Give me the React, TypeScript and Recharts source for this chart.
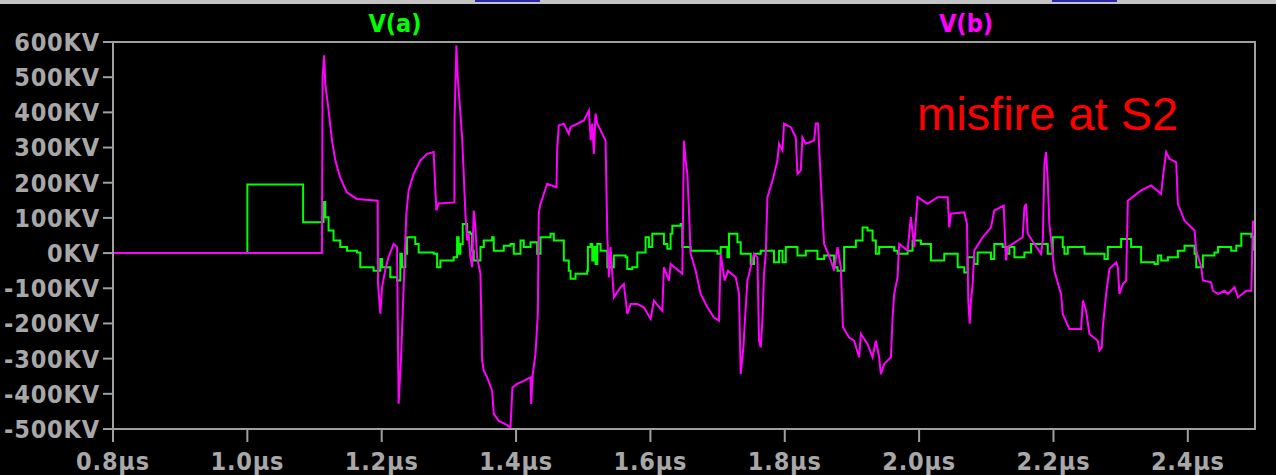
import { LineChart, Line, XAxis, YAxis, ReferenceArea } from "recharts";

// time axis in µs, voltage axis in KV
const X_TICKS = [0.8, 1.0, 1.2, 1.4, 1.6, 1.8, 2.0, 2.2, 2.4];
const Y_TICKS = [-500, -400, -300, -200, -100, 0, 100, 200, 300, 400, 500, 600];

// V(a): [t (µs), v (KV)]
const vaPoints: [number, number][] = [
  [0.8, 0], [1.0, 0], [1.0, 195], [1.083, 195], [1.083, 88], [1.111, 88],
  [1.1134, 145], [1.116, 102], [1.1209, 64], [1.1283, 36], [1.1383, 17], [1.1483, 7],
  [1.1632, 2], [1.1681, -40], [1.1879, -50], [1.1954, -50], [1.1979, -17], [1.2004, -40],
  [1.2128, -69], [1.2228, -78], [1.2277, -2], [1.2302, -40], [1.2352, -2], [1.2376, 45],
  [1.25, 26], [1.255, 2], [1.2773, -2], [1.2824, -40], [1.2873, -21], [1.3071, -12],
  [1.3122, 45], [1.3146, -2], [1.3171, 26], [1.3206, 83], [1.3272, 59], [1.332, 55],
  [1.3346, 7], [1.337, -21], [1.347, 17], [1.352, 36], [1.3644, 45], [1.3668, 7],
  [1.3817, 21], [1.3917, 26], [1.3966, -2], [1.4066, 36], [1.4115, 17], [1.4215, 31],
  [1.4314, -2], [1.4364, 45], [1.4513, 55], [1.4562, 36], [1.4711, -21], [1.4785, -50],
  [1.4811, -73], [1.4885, -59], [1.5058, -50], [1.5069, 17], [1.5109, 26], [1.5134, -21],
  [1.5158, 17], [1.5184, -31], [1.5209, 26], [1.5258, 7], [1.5358, -40], [1.5456, -7],
  [1.563, -12], [1.5656, -45], [1.573, -40], [1.5805, 2], [1.5903, 2], [1.5928, 45],
  [1.5978, 17], [1.6028, 55], [1.6201, 26], [1.6252, 12], [1.6301, 55], [1.6326, 78],
  [1.645, 83], [1.6475, 17], [1.6574, 17], [1.6599, 7], [1.6997, -2], [1.7046, 17],
  [1.7146, -12], [1.717, 55], [1.7295, 31], [1.7344, -2], [1.7493, -31], [1.7542, -2],
  [1.7642, 7], [1.784, -26], [1.7915, 7], [1.7966, -26], [1.8015, 17], [1.8189, -7],
  [1.8313, 7], [1.8487, -17], [1.8586, -7], [1.8735, -40], [1.8785, -50], [1.8884, 17],
  [1.9058, 36], [1.9158, 73], [1.9232, 64], [1.9307, 36], [1.9356, -2], [1.9405, 17],
  [1.9629, 7], [1.9679, -2], [1.9829, 7], [1.9902, 36], [2.0027, 26], [2.0176, -21],
  [2.0374, -2], [2.0574, -40], [2.0672, -55], [2.0722, -12], [2.0821, -31], [2.0871, 2],
  [2.107, -17], [2.1119, 26], [2.1244, 17], [2.1293, -2], [2.1343, 17], [2.1418, -12],
  [2.1567, 2], [2.1666, 26], [2.1815, 26], [2.1915, -2], [2.1989, 45], [2.2138, 17],
  [2.2163, -2], [2.2213, 17], [2.2461, -2], [2.271, -2], [2.2759, -17], [2.2809, 17],
  [2.2958, 17], [2.3007, 40], [2.3156, 17], [2.3305, -26], [2.3504, -31], [2.3554, -7],
  [2.3603, -21], [2.3703, -12], [2.3852, 7], [2.3951, 21], [2.41, -2], [2.4125, -40],
  [2.4224, -7], [2.4396, 2], [2.4448, 17], [2.4646, 7], [2.4721, 21], [2.4796, 55],
  [2.4945, 45], [2.497, 7],
];

// V(b): [t (µs), v (KV)]
const vbPoints: [number, number][] = [
  [0.8, 0], [1.111, 0], [1.112, 500], [1.1144, 562], [1.116, 481], [1.121, 405],
  [1.126, 320], [1.131, 263], [1.138, 216], [1.148, 173], [1.163, 154], [1.194, 149],
  [1.1945, -87], [1.198, -172], [1.2005, -98], [1.205, -50], [1.21, -12], [1.2177, 26],
  [1.2228, 17], [1.2252, -428], [1.2286, -306], [1.2334, -58], [1.2367, 112], [1.2401, 178],
  [1.2475, 225], [1.2575, 263], [1.2675, 282], [1.2773, 287], [1.2814, 121], [1.2848, 141],
  [1.3082, 144], [1.3085, 386], [1.3112, 590], [1.3131, 500], [1.3161, 424], [1.3197, 329],
  [1.3221, 225], [1.3246, 112], [1.3272, 36], [1.3295, 55], [1.332, -12], [1.3346, -40],
  [1.337, 121], [1.3395, 73], [1.342, -12], [1.347, -59], [1.3495, -306], [1.3519, -334],
  [1.3569, -353], [1.3644, -391], [1.3668, -457], [1.3742, -477], [1.3842, -486], [1.3917, -496],
  [1.3946, -382], [1.4016, -372], [1.4115, -363], [1.4215, -353], [1.4225, -429], [1.4249, -344],
  [1.4289, -287], [1.4324, -173], [1.4338, 112], [1.4364, 140], [1.4413, 168], [1.4463, 197],
  [1.4602, 187], [1.4612, 292], [1.4636, 363], [1.4711, 368], [1.4785, 339], [1.4811, 358],
  [1.5009, 377], [1.5084, 405], [1.5112, 320], [1.5134, 368], [1.5158, 282], [1.5183, 396],
  [1.5209, 368], [1.5258, 349], [1.5332, 320], [1.5358, 55], [1.5381, -69], [1.5407, 17],
  [1.5456, -126], [1.5556, -97], [1.5605, -88], [1.5656, -173], [1.5705, -145], [1.5805, -145],
  [1.5903, -154], [1.6003, -187], [1.6052, -135], [1.6177, -164], [1.6201, -40], [1.6276, -78],
  [1.6301, -31], [1.6475, -59], [1.6499, 320], [1.6525, 263], [1.655, 225], [1.6574, 121],
  [1.6599, -2], [1.6674, -50], [1.6748, -116], [1.6848, -154], [1.6946, -183], [1.7021, -192],
  [1.7046, -2], [1.7106, -78], [1.7155, -50], [1.727, -69], [1.7319, -116], [1.7344, -344],
  [1.7384, -268], [1.7404, -201], [1.7444, -78], [1.7542, -2], [1.7593, -12], [1.7617, -249],
  [1.7642, -268], [1.7667, -192], [1.7691, -59], [1.7717, -2], [1.7742, 159], [1.7817, 206],
  [1.7891, 263], [1.7915, 311], [1.7966, 292], [1.7989, 368], [1.8089, 358], [1.8164, 329],
  [1.8189, 225], [1.8238, 235], [1.8263, 329], [1.8313, 311], [1.8437, 320], [1.8462, 368],
  [1.8496, 368], [1.8512, 301], [1.8536, 206], [1.8561, 112], [1.8586, 26], [1.8686, -21],
  [1.8735, -50], [1.8785, 17], [1.8834, -40], [1.8867, -211], [1.8958, -240], [1.9033, -249],
  [1.9107, -296], [1.9133, -230], [1.9232, -258], [1.9307, -296], [1.9356, -249], [1.9405, -296],
  [1.9431, -344], [1.948, -315], [1.958, -296], [1.9605, -183], [1.9629, -116], [1.9679, -69],
  [1.9703, 26], [1.9829, 7], [1.9877, 102], [1.9927, 17], [1.9952, 92], [1.9977, 159],
  [2.0126, 140], [2.0276, 159], [2.0425, 159], [2.0449, 73], [2.0474, 112], [2.0672, 116],
  [2.0712, 83], [2.0732, -135], [2.0753, -201], [2.0772, -135], [2.0797, -88], [2.0821, 7],
  [2.0946, 45], [2.107, 73], [2.1119, 121], [2.1259, 135], [2.1293, -21], [2.1319, 17],
  [2.1542, 45], [2.1567, 130], [2.1592, 140], [2.1617, 55], [2.1815, -2], [2.1841, 36],
  [2.1865, 254], [2.1889, 287], [2.1915, 206], [2.1939, 83], [2.2013, -50], [2.2113, -116],
  [2.2138, -173], [2.2237, -216], [2.2411, -216], [2.2437, -135], [2.2486, -164], [2.2535, -230],
  [2.266, -249], [2.2684, -277], [2.2719, -268], [2.2734, -211], [2.2784, -116], [2.2833, -45],
  [2.2933, -26], [2.2958, -40], [2.2982, -116], [2.3033, -88], [2.3082, -78], [2.3107, 149],
  [2.3305, 178], [2.3455, 192], [2.3603, 168], [2.3629, 216], [2.3678, 287], [2.3727, 268],
  [2.3827, 258], [2.3852, 140], [2.3951, 92], [2.41, 64], [2.4125, 7], [2.42, -40],
  [2.4224, -78], [2.4348, -83], [2.4373, -107], [2.4448, -116], [2.4547, -107], [2.4597, -116],
  [2.4696, -97], [2.4747, -126], [2.487, -107], [2.4945, -107], [2.497, 92],
];

const toRows = (pts: [number, number][]) => pts.map(([t, v]) => ({ t, v }));
const vaRows = toRows(vaPoints);
const vbRows = toRows(vbPoints);

const FRAME = "#a0a0a0";
const TEXT = "#a8a8a8";
const GREEN = "#00ff00";
const MAGENTA = "#ff00ff";
const PIXEL_FONT = '"DejaVu Sans Condensed", "DejaVu Sans", sans-serif';

const tickStyle = { fill: TEXT, fontSize: 25, fontWeight: 700, fontFamily: PIXEL_FONT, letterSpacing: 0.8 };

export default function App() {
  return (
    <div style={{ position: "absolute", left: 0, top: 0, width: 1276, height: 475, background: "#000", overflow: "hidden" }}>
      {/* window toolbar edge */}
      <div style={{ position: "absolute", left: 0, top: 0, width: 1276, height: 4, background: "#c4c4c4" }} />
      <div style={{ position: "absolute", left: 475, top: 0, width: 65, height: 2, background: "#2a2aa8" }} />
      <div style={{ position: "absolute", left: 1052, top: 0, width: 65, height: 2, background: "#2a2aa8" }} />

      <LineChart width={1276} height={475} margin={{ top: 42, right: 21, bottom: 0, left: 0 }}>
        <XAxis
          type="number" dataKey="t" domain={[0.8, 2.5]} ticks={X_TICKS} allowDataOverflow
          tickFormatter={(v: number) => `${v.toFixed(1)}µs`}
          height={46} tickSize={13} tickMargin={10}
          stroke={FRAME} strokeWidth={2} tick={tickStyle}
        />
        <YAxis
          type="number" dataKey="v" domain={[-500, 600]} ticks={Y_TICKS} allowDataOverflow
          tickFormatter={(v: number) => `${v}KV`}
          width={113} tickSize={10} tickMargin={3}
          stroke={FRAME} strokeWidth={2} tick={tickStyle}
        />
        <ReferenceArea x1={0.8} x2={2.5} y1={-500} y2={600} fill="none" fillOpacity={0} stroke={FRAME} strokeWidth={2} />
        {/* simulator output is sampled, so V(a) holds each level until the next step */}
        <Line data={vaRows} dataKey="v" type="stepAfter" stroke={GREEN} strokeWidth={2} dot={false} activeDot={false} isAnimationActive={false} />
        <Line data={vbRows} dataKey="v" type="linear" stroke={MAGENTA} strokeWidth={2} dot={false} activeDot={false} isAnimationActive={false} />
      </LineChart>

      <svg width={1276} height={475} style={{ position: "absolute", left: 0, top: 0, pointerEvents: "none" }}>
        <text x={395} y={32} textAnchor="middle" fill={GREEN} fontSize={25} fontWeight={700} fontFamily={PIXEL_FONT}>V(a)</text>
        <text x={966} y={32} textAnchor="middle" fill={MAGENTA} fontSize={25} fontWeight={700} fontFamily={PIXEL_FONT}>V(b)</text>
        <text x={917} y={130} fill="#ff0000" fontSize={47} fontFamily='"Liberation Sans", Arial, sans-serif'>misfire at S2</text>
      </svg>
    </div>
  );
}
